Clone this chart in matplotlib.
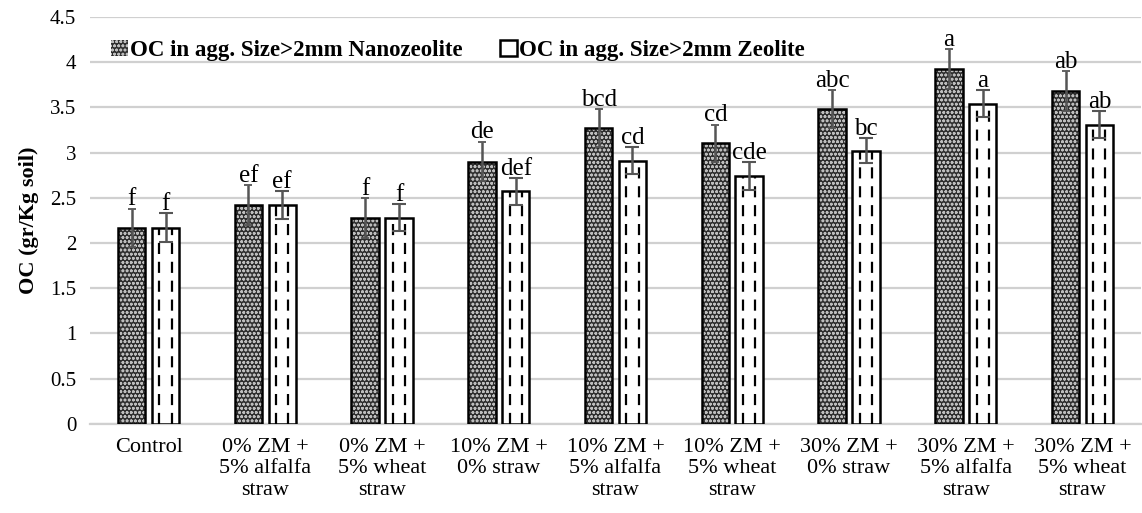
import matplotlib
matplotlib.use("Agg")
import matplotlib.pyplot as plt
import numpy as np

plt.rcParams["font.family"] = ["Liberation Serif", "DejaVu Serif"]
plt.rcParams["hatch.linewidth"] = 0.8

categories = ["Control", "0% ZM +\n5% alfalfa\nstraw", "0% ZM +\n5% wheat\nstraw",
              "10% ZM +\n0% straw", "10% ZM +\n5% alfalfa\nstraw", "10% ZM +\n5% wheat\nstraw",
              "30% ZM +\n0% straw", "30% ZM +\n5% alfalfa\nstraw", "30% ZM +\n5% wheat\nstraw"]
nano = [2.17, 2.42, 2.28, 2.90, 3.27, 3.10, 3.48, 3.92, 3.68]
nano_err = [0.21, 0.22, 0.22, 0.22, 0.21, 0.21, 0.21, 0.22, 0.22]
zeo = [2.17, 2.42, 2.28, 2.57, 2.91, 2.74, 3.02, 3.54, 3.31]
zeo_err = [0.16, 0.15, 0.15, 0.15, 0.15, 0.15, 0.14, 0.15, 0.15]
nano_letters = ["f", "ef", "f", "de", "bcd", "cd", "abc", "a", "ab"]
zeo_letters = ["f", "ef", "f", "def", "cd", "cde", "bc", "a", "ab"]

x = np.arange(len(categories))
w = 0.235
off = 0.145

fig, ax = plt.subplots(figsize=(11.42, 5.13), dpi=100)
fig.subplots_adjust(left=0.079, right=0.999, top=0.967, bottom=0.174)

# dark dotted fill: dark face, light hatch (hatch colour comes from edgecolor)
b1 = ax.bar(x - off, nano, w, color="#2e2e2e", edgecolor="#bdbdbd", linewidth=0,
            hatch="oooo", label="OC in agg. Size>2mm Nanozeolite", zorder=3)
ax.bar(x - off, nano, w, fill=False, edgecolor="black", linewidth=1.8, zorder=3)
b2 = ax.bar(x + off, zeo, w, color="white", edgecolor="black", linewidth=1.8,
            label="OC in agg. Size>2mm Zeolite", zorder=3)
# dashed stripes inside zeolite bars
for xi, v in zip(x + off, zeo):
    for f in (-0.22, 0.22):
        ax.vlines(xi + f * w, 0, v, colors="black", linestyles=(0, (5, 3.5)), linewidth=1.6, zorder=4)

ax.errorbar(x - off, nano, yerr=nano_err, fmt="none", ecolor="#555555", elinewidth=1.8,
            capsize=3, capthick=1.3, zorder=5)
ax.errorbar(x + off, zeo, yerr=zeo_err, fmt="none", ecolor="#555555", elinewidth=1.8,
            capsize=5, capthick=1.5, zorder=5)

for xi, v, e, t in zip(x - off, nano, nano_err, nano_letters):
    ax.text(xi, v + e - 0.02, t, ha="center", va="bottom", fontsize=18)
for xi, v, e, t in zip(x + off, zeo, zeo_err, zeo_letters):
    ax.text(xi, v + e - 0.02, t, ha="center", va="bottom", fontsize=18)

ax.set_ylim(0, 4.5)
ax.set_xlim(-0.5, 8.5)
ax.set_yticks(np.arange(0, 4.51, 0.5))
ax.set_yticklabels(["0", "0.5", "1", "1.5", "2", "2.5", "3", "3.5", "4", "4.5"], fontsize=15)
ax.set_xticks(x)
ax.set_xticklabels(categories, fontsize=16, linespacing=1.2)
ax.tick_params(axis="x", length=0, pad=10)
ax.tick_params(axis="y", length=0, pad=10)
ax.yaxis.grid(True, color="#d0d0d0", linewidth=1.6, zorder=0)
ax.set_axisbelow(True)
for s in ["top", "right", "left"]:
    ax.spines[s].set_visible(False)
ax.spines["bottom"].set_color("#d0d0d0")
ax.spines["bottom"].set_linewidth(1.6)
ax.set_ylabel("OC (gr/Kg soil)", fontsize=16, fontweight="bold", labelpad=8)

leg = ax.legend(handles=[b1, b2], loc="upper left", bbox_to_anchor=(0.0, 0.995), ncol=2,
                frameon=False, prop={"weight": "bold", "size": 16.5}, handlelength=0.75,
                handleheight=0.75, handletextpad=0.1, columnspacing=1.6)

fig.savefig("out.png", dpi=100)
plt.close(fig)
